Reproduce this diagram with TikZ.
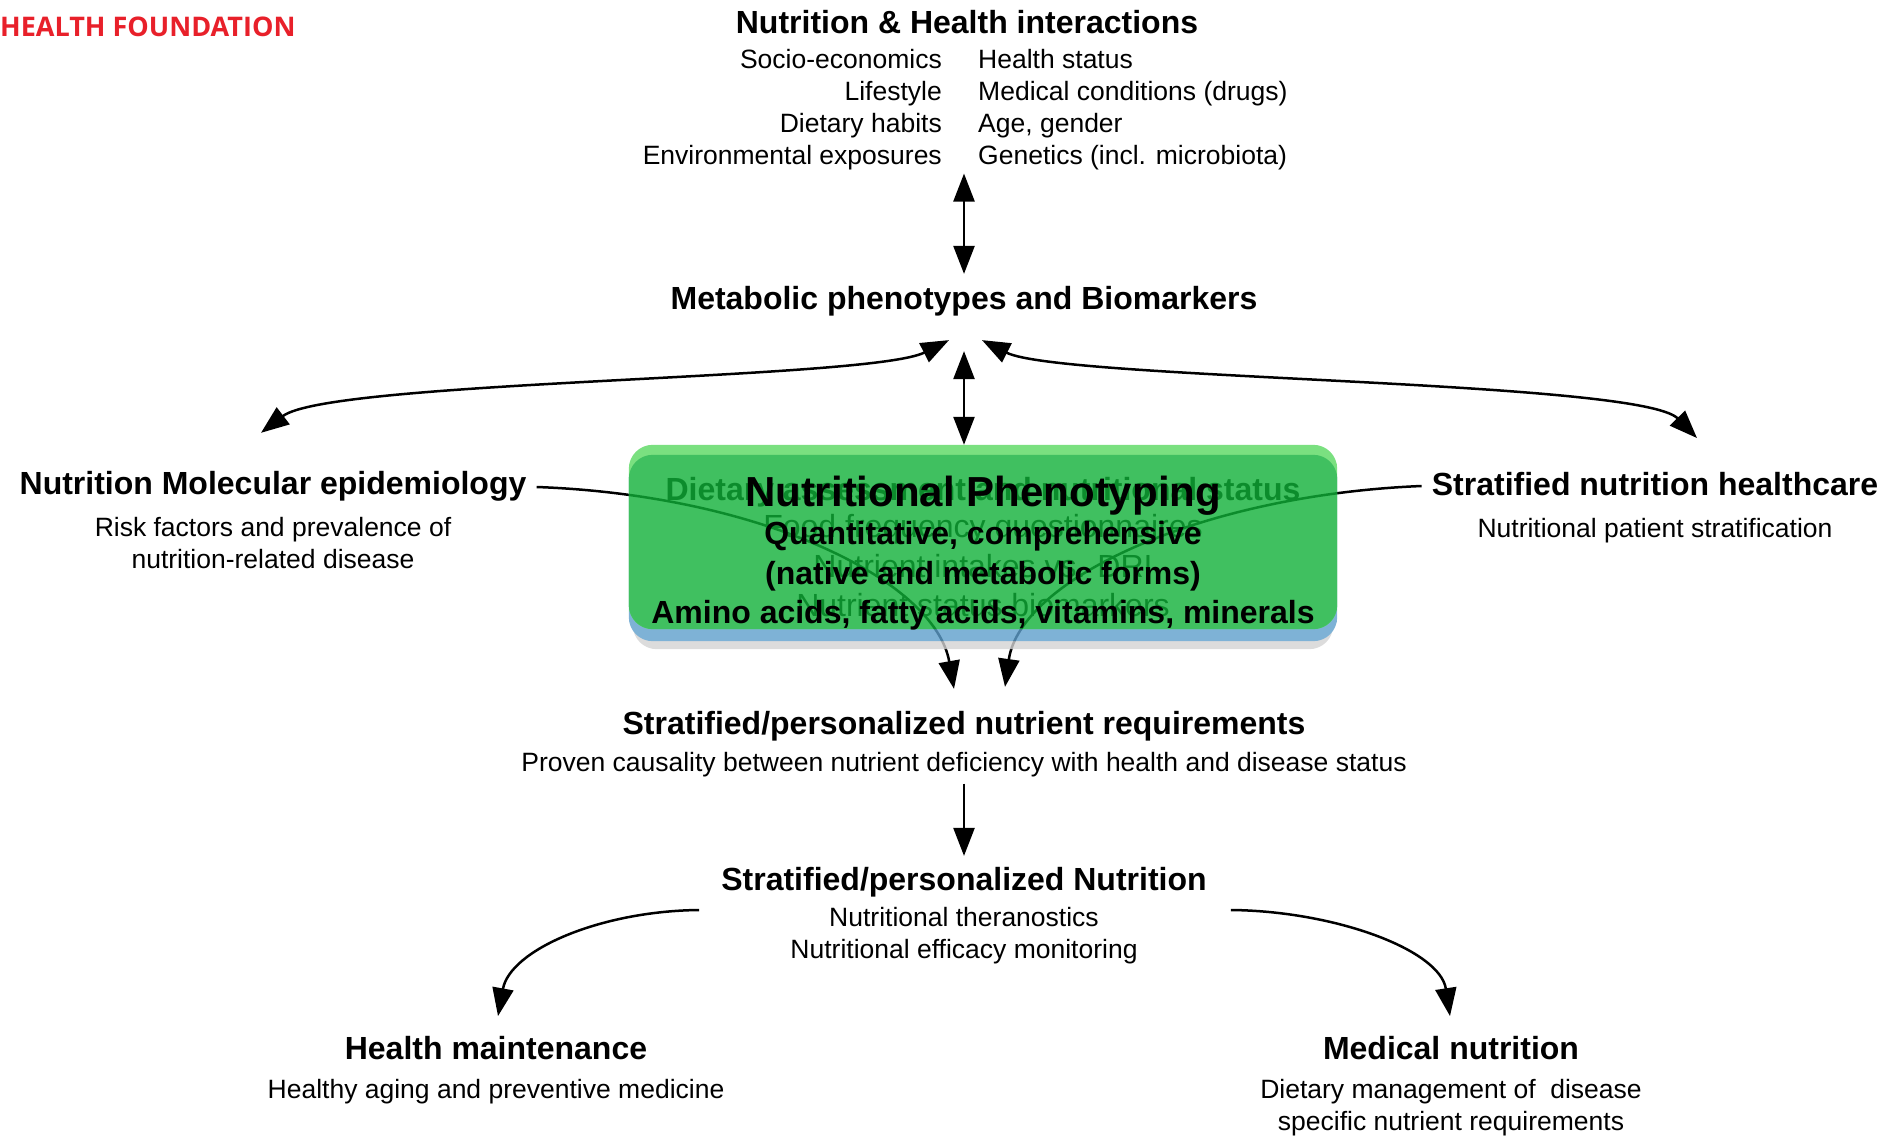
\documentclass[tikz,border=0pt]{standalone}
\usepackage{fontspec}
\setmainfont{Liberation Sans}
\newfontfamily\redfont{Open Sans}
\usetikzlibrary{arrows.meta,calc}

\definecolor{phengreen}{HTML}{10B038}
\definecolor{phenlight}{HTML}{59D860}
\definecolor{phenblue}{HTML}{5E9FCC}
\definecolor{phenshade}{HTML}{D3D3D3}
\definecolor{hfred}{HTML}{E8202A}

\tikzset{
  ttl/.style={font=\fontsize{32}{38}\selectfont\bfseries, inner sep=0pt},
  sub/.style={font=\fontsize{26.5}{32}\selectfont, inner sep=0pt, align=center},
  dbl/.style={{Triangle[length=28pt,width=21pt]}-{Triangle[length=28pt,width=21pt]}, line width=2.5pt},
  arr/.style={-{Triangle[length=28pt,width=21pt]}, line width=2.5pt},
}

\begin{document}
\begin{tikzpicture}[x=1pt,y=-1pt]
\useasboundingbox (0,0) rectangle (1896,1139);

\node[anchor=west, inner sep=0pt, text=hfred, font=\redfont\fontsize{27}{30}\selectfont\bfseries] (found) at (0,27) {HEALTH FOUNDATION};

% interactions
\node[ttl] (nhi) at (967,22) {Nutrition \& Health interactions};
\node[sub, align=right, anchor=east] (nhi-l) at (942,110) {Socio-economics\\Lifestyle\\Dietary habits\\Environmental exposures};
\node[sub, align=left, anchor=west] (nhi-r) at (978,110) {Health status\\Medical conditions (drugs)\\Age, gender\\Genetics (incl. microbiota)};

\node[ttl] (meta) at (964,301) {Metabolic phenotypes and Biomarkers};

\node[ttl] (epi) at (273,486) {Nutrition Molecular epidemiology};
\node[sub] (epi-s) at (273,543) {Risk factors and prevalence of\\nutrition-related disease};

\node[ttl] (care) at (1655,484) {Stratified nutrition healthcare};
\node[sub] (care-s) at (1655,531) {Nutritional patient stratification};

\node[ttl] (req) at (964,726) {Stratified/personalized nutrient requirements};
\node[sub] (req-s) at (964,765) {Proven causality between nutrient deficiency with health and disease status};

% under the box
\node[ttl] (diet) at (983,492) {Dietary assessment and nutritional status};
\node[sub, font=\fontsize{32}{39.5}\selectfont] (diet-s) at (983,566) {Food frequency questionnaires\\Nutrient intakes vs. DRI\\Nutrient status biomarkers};

\draw[arr] ($(epi.east)+(10,1)$) .. controls (760,495) and (935,580) .. ($(req.north)+(-10,-22)$);
\draw[arr] ($(care.west)+(-10,2)$) .. controls (1200,495) and (1020,580) .. ($(req.north)+(41,-24)$);

% the box
\node[minimum width=708pt, minimum height=196pt, inner sep=0pt] (phen) at (983,543) {};
\begin{scope}[transparency group, opacity=0.8]
  \fill[phenshade, rounded corners=24pt] ($(phen.north west)+(4,14)$) rectangle ($(phen.south east)+(-4,8)$);
  \fill[phenblue, rounded corners=24pt] ($(phen.north west)+(0,10)$) rectangle (phen.south east);
  \fill[phenlight, rounded corners=24pt] (phen.north west) rectangle ($(phen.south east)+(0,-12)$);
  \fill[phengreen, rounded corners=24pt] ($(phen.north west)+(0,10)$) rectangle ($(phen.south east)+(0,-12)$);
\end{scope}
\node[inner sep=0pt, font=\fontsize{42}{48}\selectfont\bfseries] (phen-t) at (983,496) {Nutritional Phenotyping};
\node[inner sep=0pt, align=center, font=\fontsize{32}{39.5}\selectfont\bfseries] (phen-s) at (983,576) {Quantitative, comprehensive\\(native and metabolic forms)\\Amino acids, fatty acids, vitamins, minerals};

\draw[dbl, shorten <=3pt, shorten >=12pt] (nhi-l.south -| meta.north) -- (meta.north);
\draw[dbl, shorten <=35pt] (meta.south) -- (meta.south |- phen.north);
\draw[dbl] ($(meta.south)+(-15,24)$) .. controls (870,380) and (330,380) .. ($(epi.north)+(-12,-38)$);
\draw[dbl] ($(meta.south)+(18,24)$) .. controls (1060,380) and (1640,380) .. ($(care.north)+(42,-34)$);

\node[ttl] (pers) at (964,882) {Stratified/personalized Nutrition};
\node[sub] (pers-s) at (964,936) {Nutritional theranostics\\Nutritional efficacy monitoring};
\draw[arr, shorten <=6pt, shorten >=11pt] (req-s.south) -- (pers.north);

\node[ttl] (hm) at (496,1048) {Health maintenance};
\node[sub] (hm-s) at (496,1092) {Healthy aging and preventive medicine};
\node[ttl] (med) at (1451,1048) {Medical nutrition};
\node[sub] (med-s) at (1451,1108) {Dietary management of \ disease\\specific nutrient requirements};

\draw[arr] ($(pers.west)+(-22,28)$) .. controls (600,911) and (510,950) .. ($(hm.north)+(2,-20)$);
\draw[arr] ($(pers.east)+(24,28)$) .. controls (1335,911) and (1440,950) .. ($(med.north)+(-1,-20)$);
\end{tikzpicture}
\end{document}
